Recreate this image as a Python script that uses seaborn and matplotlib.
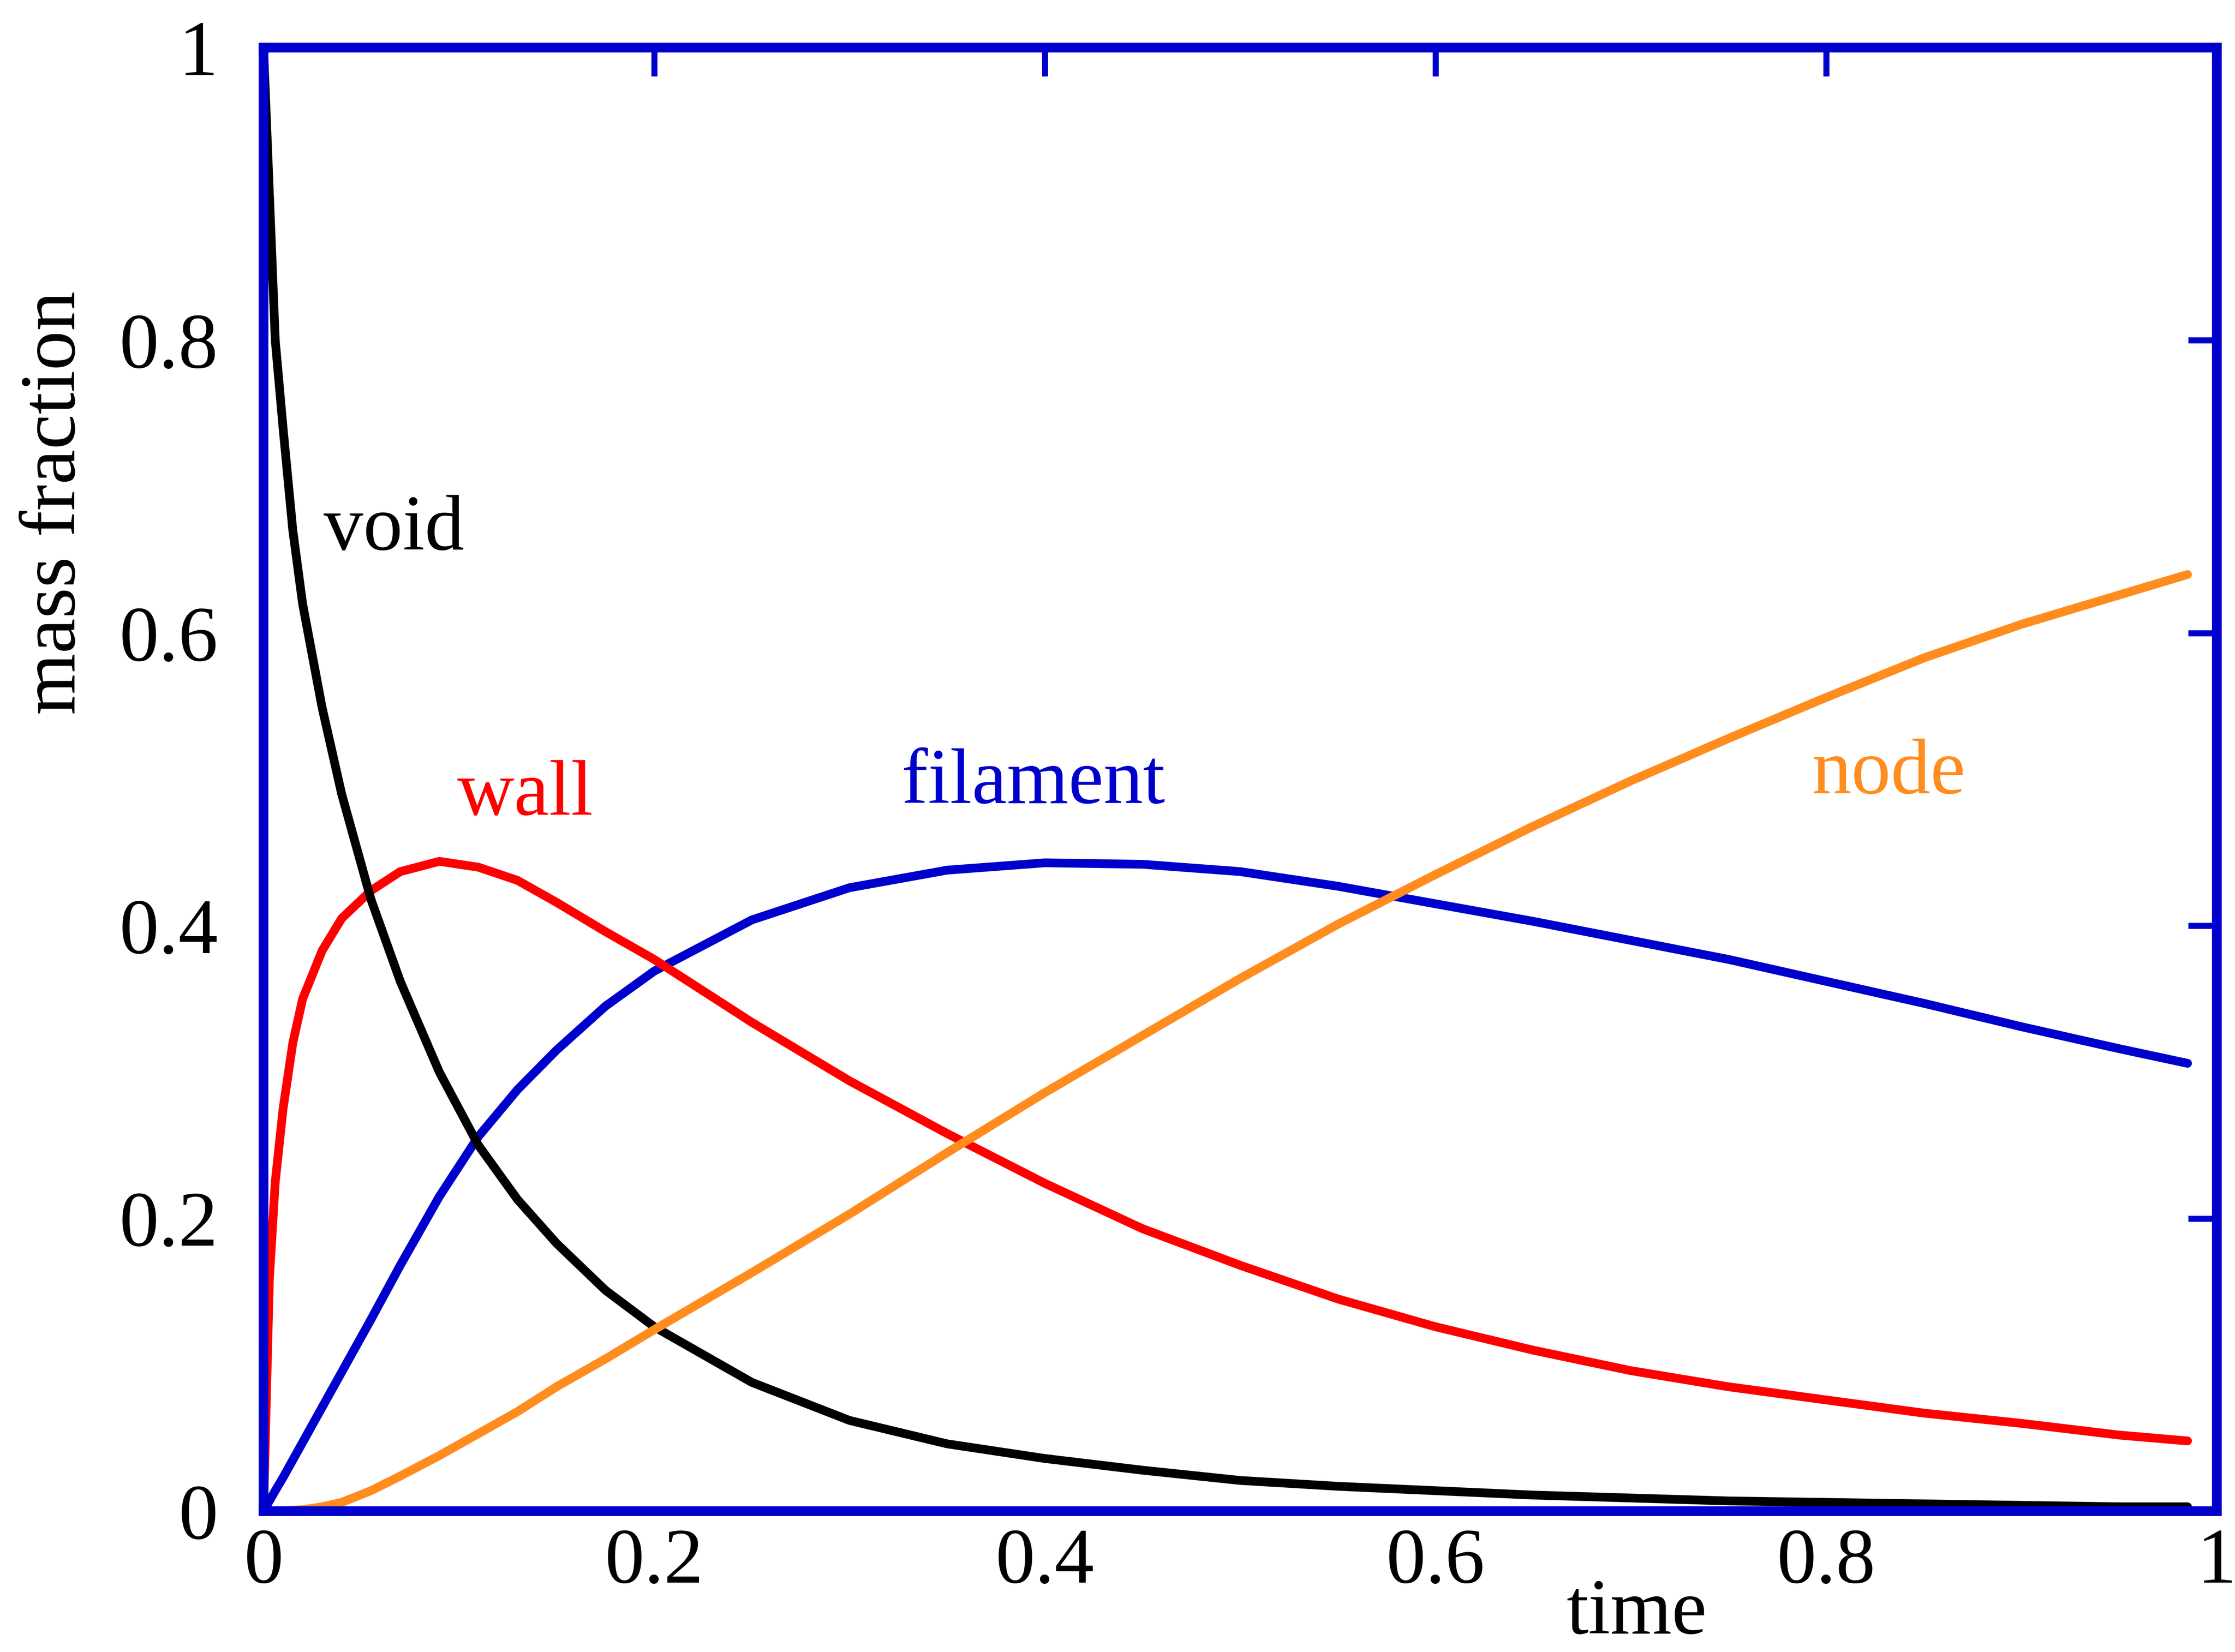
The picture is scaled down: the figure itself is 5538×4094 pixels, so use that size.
import numpy as np
import pandas as pd
import seaborn as sns
import matplotlib.pyplot as plt

# values
t = [0.0, 0.003, 0.006, 0.01, 0.015, 0.02, 0.03, 0.04, 0.055, 0.07, 0.09, 0.11, 0.13, 0.15,
     0.175, 0.2, 0.25, 0.3, 0.35, 0.4, 0.45, 0.5, 0.55, 0.6, 0.65, 0.7, 0.75, 0.8, 0.85,
     0.9, 0.95, 0.985]
void = [1.0, 0.90, 0.80, 0.74, 0.67, 0.62, 0.549, 0.49, 0.418, 0.362, 0.30, 0.250, 0.213,
        0.183, 0.151, 0.126, 0.088, 0.062, 0.046, 0.036, 0.028, 0.021, 0.017, 0.014, 0.011,
        0.009, 0.007, 0.006, 0.005, 0.004, 0.003, 0.003]
wall = [0.0, 0.159, 0.225, 0.275, 0.32, 0.35, 0.383, 0.405, 0.424, 0.437, 0.444, 0.440,
        0.431, 0.416, 0.396, 0.377, 0.334, 0.294, 0.258, 0.224, 0.193, 0.168, 0.145, 0.126,
        0.110, 0.096, 0.085, 0.076, 0.067, 0.060, 0.052, 0.048]
filament = [0.0, 0.007, 0.014, 0.023, 0.035, 0.047, 0.071, 0.095, 0.131, 0.168, 0.215, 0.256,
            0.288, 0.315, 0.345, 0.369, 0.404, 0.426, 0.438, 0.443, 0.442, 0.437, 0.427,
            0.415, 0.403, 0.390, 0.377, 0.362, 0.347, 0.331, 0.316, 0.306]
node = [0.0, 0.0, 0.0, 0.0003, 0.0007, 0.001, 0.003, 0.006, 0.014, 0.024, 0.038, 0.053, 0.068,
        0.085, 0.104, 0.124, 0.163, 0.203, 0.245, 0.286, 0.325, 0.364, 0.401, 0.435, 0.468,
        0.499, 0.528, 0.556, 0.583, 0.606, 0.626, 0.640]

colors = {'void': 'black', 'wall': '#ff0000', 'filament': '#0000cc', 'node': '#ff8c1e'}
draw_order = ['filament', 'wall', 'void', 'node']
labels = ['void', 'wall', 'filament', 'node']
label_x = [0.0667, 0.1339, 0.394, 0.832]
label_y = [0.657, 0.476, 0.484, 0.4905]

df = pd.DataFrame({'time': t, 'void': void, 'wall': wall, 'filament': filament, 'node': node})
long = df.melt(id_vars='time', var_name='kind', value_name='mass fraction')

sns.set_style('white')
plt.rcParams['font.family'] = ['Liberation Serif', 'DejaVu Serif']

fig = plt.figure(figsize=(5538 / 300, 4094 / 300), dpi=300)
ax = fig.add_axes([653 / 5538, 1 - 3745 / 4094, 4840 / 5538, 3627 / 4094])

sns.lineplot(data=long, x='time', y='mass fraction', hue='kind', hue_order=draw_order,
             palette=colors, linewidth=5.2, estimator=None, legend=False, ax=ax)

for name, lx, ly in zip(labels, label_x, label_y):
    ax.text(lx, ly, name, color=colors[name], fontsize=47, ha='center', va='baseline')

ticks = [0, 0.2, 0.4, 0.6, 0.8, 1]
tick_text = ['0', '0.2', '0.4', '0.6', '0.8', '1']
ax.set_xlim(0, 1)
ax.set_ylim(0, 1)
ax.set_xticks(ticks)
ax.set_xticklabels(tick_text)
ax.set_yticks(ticks)
ax.set_yticklabels(tick_text)
ax.tick_params(axis='both', direction='in', length=17, width=3.6, color='#0000cc',
               labelsize=47, labelcolor='black', top=True, right=True)
ax.tick_params(axis='x', pad=10)
ax.tick_params(axis='y', pad=27)
for s in ax.spines.values():
    s.set_color('#0000cc')
    s.set_linewidth(5.8)

ax.set_xlabel('time', fontsize=47, color='black')
ax.xaxis.label.set_va('baseline')
ax.xaxis.set_label_coords(0.703, -0.0835)
ax.set_ylabel('mass fraction', fontsize=47, color='black')
ax.yaxis.set_label_coords(-0.088, 0.689)

fig.savefig('out.png', dpi=300)
